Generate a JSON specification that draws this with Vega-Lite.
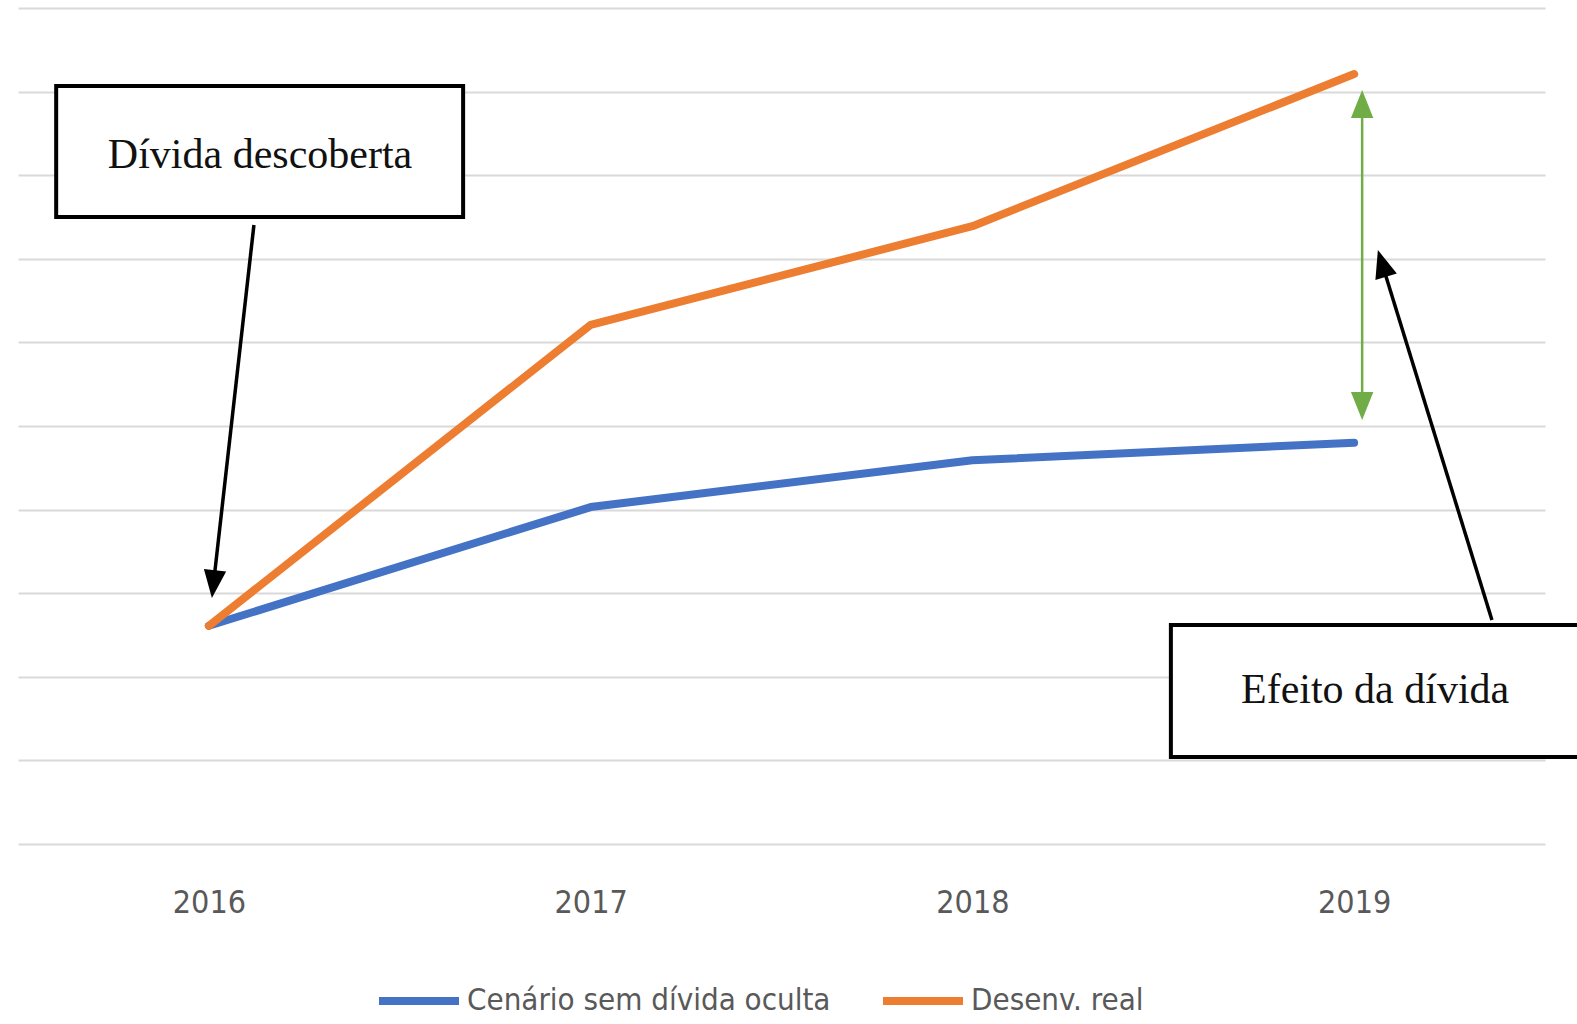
{
  "$schema": "https://vega.github.io/schema/vega-lite/v6.json",
  "width": 1527,
  "height": 836,
  "autosize": {"type": "none"},
  "padding": {"left": 18, "top": 8, "right": 32, "bottom": 180},
  "background": "white",
  "config": {
    "view": {"stroke": null}
  },
  "datasets": {
    "series": [
      {"year": 2016, "value": 2.61, "series": "Cenário sem dívida oculta"},
      {"year": 2017, "value": 4.03, "series": "Cenário sem dívida oculta"},
      {"year": 2018, "value": 4.59, "series": "Cenário sem dívida oculta"},
      {"year": 2019, "value": 4.80, "series": "Cenário sem dívida oculta"},
      {"year": 2016, "value": 2.61, "series": "Desenv. real"},
      {"year": 2017, "value": 6.21, "series": "Desenv. real"},
      {"year": 2018, "value": 7.39, "series": "Desenv. real"},
      {"year": 2019, "value": 9.21, "series": "Desenv. real"}
    ],
    "boxes": [
      {"x": 2015.600, "x2": 2016.666, "y": 9.067, "y2": 7.500, "label": "Dívida descoberta", "tx": 2016.134, "ty": 8.242},
      {"x": 2018.520, "x2": 2019.644, "y": 2.620, "y2": 1.041, "label": "Efeito da dívida", "tx": 2019.055, "ty": 1.842}
    ],
    "blackArrows": [
      {"x": 2016.118, "y": 7.404, "x2": 2016.012, "y2": 3.109},
      {"x": 2019.361, "y": 2.679, "x2": 2019.073, "y2": 6.945}
    ],
    "greenArrow": [
      {"x": 2019.021, "y": 8.852, "x2": 2019.021, "y2": 5.239}
    ]
  },
  "layer": [
    {
      "data": {"name": "series"},
      "mark": {"type": "line", "strokeWidth": 8, "strokeCap": "round", "strokeJoin": "round"},
      "encoding": {
        "x": {
          "field": "year", "type": "quantitative",
          "scale": {"domain": [2015.5, 2019.5], "nice": false, "zero": false},
          "axis": {
            "values": [2016, 2017, 2018, 2019], "format": "d", "title": null,
            "grid": false, "domain": false, "ticks": false,
            "labelFont": "'Liberation Sans Narrow', 'DejaVu Sans Condensed', 'Roboto Condensed', Roboto, sans-serif",
            "labelColor": "#595959",
            "labelFontSize": 32, "labelPadding": 43, "labelFlush": false
          }
        },
        "y": {
          "field": "value", "type": "quantitative",
          "scale": {"domain": [0, 10], "nice": false},
          "axis": {
            "values": [0, 1, 2, 3, 4, 5, 6, 7, 8, 9, 10],
            "title": null, "labels": false, "ticks": false, "domain": false,
            "grid": true, "gridColor": "#D9D9D9", "gridWidth": 2
          }
        },
        "color": {
          "field": "series", "type": "nominal",
          "scale": {"domain": ["Cenário sem dívida oculta", "Desenv. real"], "range": ["#4472C4", "#ED7D31"]},
          "legend": {
            "title": null, "orient": "none", "direction": "horizontal",
            "legendX": 357, "legendY": 949,
            "symbolType": "stroke", "symbolSize": 6400, "symbolStrokeWidth": 8,
            "labelFont": "'Liberation Sans Narrow', 'DejaVu Sans Condensed', 'Roboto Condensed', Roboto, sans-serif",
            "labelFontSize": 31, "labelColor": "#595959",
            "labelOffset": 4, "columnPadding": 36, "labelLimit": 600
          }
        }
      }
    },
    {
      "data": {"name": "boxes"},
      "mark": {"type": "rect", "fill": "white", "stroke": "black", "strokeWidth": 4},
      "encoding": {
        "x": {"field": "x", "type": "quantitative"},
        "x2": {"field": "x2"},
        "y": {"field": "y", "type": "quantitative"},
        "y2": {"field": "y2"}
      }
    },
    {
      "data": {"name": "boxes"},
      "mark": {"type": "text", "font": "Liberation Serif", "fontSize": 42, "color": "#111111", "align": "center", "baseline": "middle"},
      "encoding": {
        "x": {"field": "tx", "type": "quantitative"},
        "y": {"field": "ty", "type": "quantitative"},
        "text": {"field": "label"}
      }
    },
    {
      "data": {"name": "blackArrows"},
      "mark": {"type": "rule", "color": "black", "strokeWidth": 3.5},
      "encoding": {
        "x": {"field": "x", "type": "quantitative"},
        "y": {"field": "y", "type": "quantitative"},
        "x2": {"field": "x2"},
        "y2": {"field": "y2"}
      }
    },
    {
      "data": {"name": "greenArrow"},
      "mark": {"type": "rule", "color": "#70AD47", "strokeWidth": 2.5},
      "encoding": {
        "x": {"field": "x", "type": "quantitative"},
        "y": {"field": "y", "type": "quantitative"},
        "x2": {"field": "x2"},
        "y2": {"field": "y2"}
      }
    },
    {
      "data": {"values": [{"x": 2016.012, "y": 3.109}]},
      "mark": {"type": "point", "shape": "M0,-1L0.8,1L-0.8,1Z", "size": 784, "filled": true, "color": "black", "opacity": 1, "angle": 186.4},
      "encoding": {"x": {"field": "x", "type": "quantitative"}, "y": {"field": "y", "type": "quantitative"}}
    },
    {
      "data": {"values": [{"x": 2019.073, "y": 6.945}]},
      "mark": {"type": "point", "shape": "M0,-1L0.8,1L-0.8,1Z", "size": 784, "filled": true, "color": "black", "opacity": 1, "angle": 342.9},
      "encoding": {"x": {"field": "x", "type": "quantitative"}, "y": {"field": "y", "type": "quantitative"}}
    },
    {
      "data": {"values": [{"x": 2019.021, "y": 8.852}]},
      "mark": {"type": "point", "shape": "M0,-1L0.8,1L-0.8,1Z", "size": 784, "filled": true, "color": "#70AD47", "opacity": 1, "angle": 0},
      "encoding": {"x": {"field": "x", "type": "quantitative"}, "y": {"field": "y", "type": "quantitative"}}
    },
    {
      "data": {"values": [{"x": 2019.021, "y": 5.239}]},
      "mark": {"type": "point", "shape": "M0,-1L0.8,1L-0.8,1Z", "size": 784, "filled": true, "color": "#70AD47", "opacity": 1, "angle": 180},
      "encoding": {"x": {"field": "x", "type": "quantitative"}, "y": {"field": "y", "type": "quantitative"}}
    }
  ]
}
